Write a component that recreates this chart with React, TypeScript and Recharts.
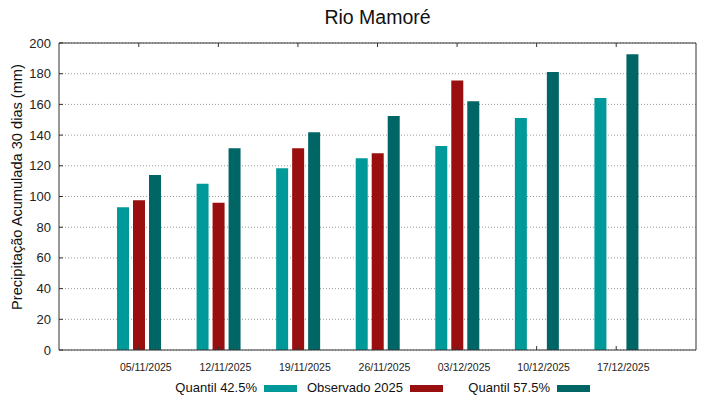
import React from 'react';
import { BarChart, Bar, XAxis, YAxis, CartesianGrid } from 'recharts';

const dates = ['05/11/2025', '12/11/2025', '19/11/2025', '26/11/2025', '03/12/2025', '10/12/2025', '17/12/2025'];
const quantil425 = [93, 108.3, 118.4, 125, 132.9, 151.1, 164.2];
const observado2025: (number | null)[] = [97.5, 96, 131.4, 128.1, 175.5, null, null];
const quantil575 = [114, 131.4, 141.8, 152.4, 162, 181.1, 192.6];
const yTicks = [0, 20, 40, 60, 80, 100, 120, 140, 160, 180, 200];

const seriesNames = ['Quantil 42.5%', 'Observado 2025', 'Quantil 57.5%'];
const C_Q425 = '#009999';
const C_OBS = '#990e0e';
const C_Q575 = '#006565';
const AXIS = '#333333';
const FONT = '"Liberation Sans", Arial, sans-serif';

const data = dates.map((d, i) => ({
  date: d,
  q425: quantil425[i],
  obs: observado2025[i],
  q575: quantil575[i],
}));

const BottomTick = (props: any) => {
  const { x, y, payload } = props;
  return (
    <g>
      <line x1={x} x2={x} y1={y} y2={y - 4} stroke={AXIS} />
      <text x={x + 7} y={y + 21} textAnchor="middle" fontSize={10.5} fontFamily={FONT} fill="#222">
        {payload.value}
      </text>
    </g>
  );
};

const TopTick = (props: any) => {
  const { x, y } = props;
  return <line x1={x} x2={x} y1={y} y2={y + 4} stroke={AXIS} />;
};

const LeftTick = (props: any) => {
  const { x, y, payload } = props;
  return (
    <g>
      <line x1={x} x2={x + 4} y1={y} y2={y} stroke={AXIS} />
      <text x={x - 8} y={y + 4.5} textAnchor="end" fontSize={13} fontFamily={FONT} fill="#222">
        {payload.value}
      </text>
    </g>
  );
};

const RightTick = (props: any) => {
  const { x, y } = props;
  return <line x1={x} x2={x - 4} y1={y} y2={y} stroke={AXIS} />;
};

const legendItems = [
  { name: seriesNames[0], color: C_Q425, textEnd: 257, sampleX: 264 },
  { name: seriesNames[1], color: C_OBS, textEnd: 403, sampleX: 410 },
  { name: seriesNames[2], color: C_Q575, textEnd: 550, sampleX: 557 },
];

export default function App() {
  return (
    <div style={{ position: 'absolute', left: 0, top: 0, width: 719, height: 399, background: '#fff' }}>
      <BarChart
        width={719}
        height={399}
        data={data}
        margin={{ top: 0, right: 0, bottom: 0, left: 0 }}
        barGap={4}
        barCategoryGap={0}
      >
        <CartesianGrid
          xAxisId="b"
          yAxisId="l"
          vertical={false}
          stroke="#999"
          strokeDasharray="1 2"
        />
        <XAxis
          xAxisId="b"
          dataKey="date"
          orientation="bottom"
          height={49}
          padding={{ left: 40, right: 40 }}
          stroke={AXIS}
          tickLine={false}
          tickSize={0}
          tickMargin={0}
          tick={BottomTick}
          interval={0}
        />
        <XAxis
          xAxisId="t"
          dataKey="date"
          orientation="top"
          height={43}
          padding={{ left: 40, right: 40 }}
          stroke={AXIS}
          tickLine={false}
          tickSize={0}
          tickMargin={0}
          tick={TopTick}
          interval={0}
        />
        <YAxis
          yAxisId="l"
          orientation="left"
          width={59}
          domain={[0, 200]}
          ticks={yTicks}
          stroke={AXIS}
          tickLine={false}
          tickSize={0}
          tickMargin={0}
          tick={LeftTick}
          interval={0}
        />
        <YAxis
          yAxisId="r"
          orientation="right"
          width={23}
          domain={[0, 200]}
          ticks={yTicks}
          stroke={AXIS}
          tickLine={false}
          tickSize={0}
          tickMargin={0}
          tick={RightTick}
          interval={0}
        />
        <Bar xAxisId="b" yAxisId="l" dataKey="q425" name={seriesNames[0]} fill={C_Q425} barSize={12} isAnimationActive={false} />
        <Bar xAxisId="b" yAxisId="l" dataKey="obs" name={seriesNames[1]} fill={C_OBS} barSize={12} isAnimationActive={false} />
        <Bar xAxisId="b" yAxisId="l" dataKey="q575" name={seriesNames[2]} fill={C_Q575} barSize={12} isAnimationActive={false} />
      </BarChart>
      <svg
        width={719}
        height={399}
        style={{ position: 'absolute', left: 0, top: 0, pointerEvents: 'none' }}
      >
        <text x={377.5} y={24} textAnchor="middle" fontSize={19.5} fontFamily={FONT} fill="#111">
          Rio Mamoré
        </text>
        <text
          transform="translate(22,187) rotate(-90)"
          textAnchor="middle"
          fontSize={14.6}
          fontFamily={FONT}
          fill="#111"
        >
          Precipitação Acumulada 30 dias (mm)
        </text>
        {legendItems.map((it) => (
          <g key={it.name}>
            <text x={it.textEnd} y={392} textAnchor="end" fontSize={13} fontFamily={FONT} fill="#111">
              {it.name}
            </text>
            <rect x={it.sampleX} y={385} width={33} height={7} fill={it.color} />
          </g>
        ))}
      </svg>
    </div>
  );
}
